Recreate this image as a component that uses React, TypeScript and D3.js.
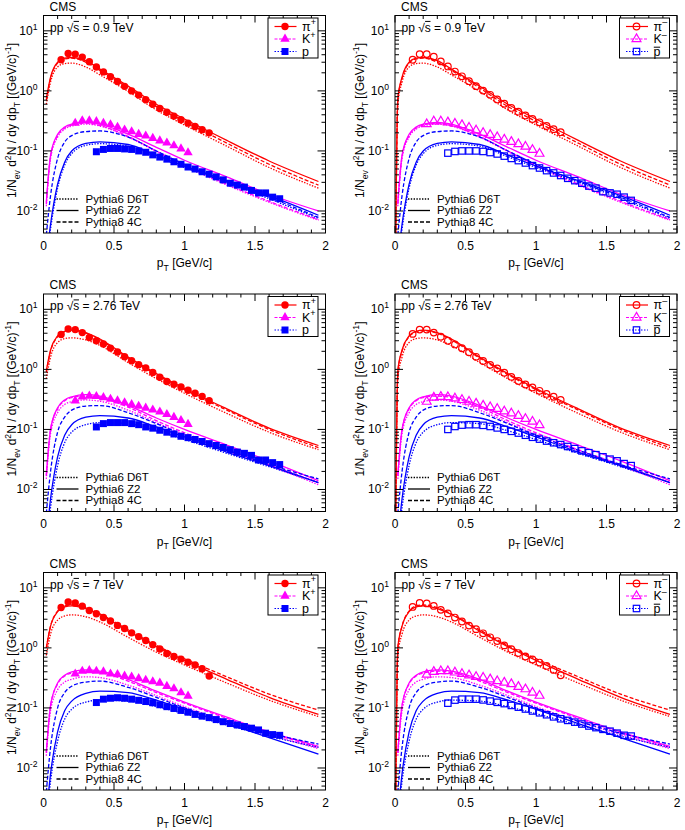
import { useEffect, useRef } from 'react';
import * as d3 from 'd3';

// bin centres (GeV/c)
const ptPi = [0.125, 0.175, 0.225, 0.275, 0.325, 0.375, 0.425, 0.475, 0.525, 0.575, 0.625,
  0.675, 0.725, 0.775, 0.825, 0.875, 0.925, 0.975, 1.025, 1.075, 1.125, 1.175];
const ptK = [0.225, 0.275, 0.325, 0.375, 0.425, 0.475, 0.525, 0.575, 0.625, 0.675, 0.725,
  0.775, 0.825, 0.875, 0.925, 0.975, 1.025];
const ptP = [0.375, 0.425, 0.475, 0.525, 0.575, 0.625, 0.675, 0.725, 0.775, 0.825, 0.875,
  0.925, 0.975, 1.025, 1.075, 1.125, 1.175, 1.225, 1.275, 1.325, 1.375, 1.425, 1.475,
  1.525, 1.575, 1.625, 1.675];
const ptModel = [0.02, 0.05, 0.1, 0.15, 0.2, 0.3, 0.4, 0.6, 0.8, 1.0, 1.3, 1.6, 1.95];

// measured spectra, 0.9 TeV
const piPos09 = [3.3, 4.2, 4.1, 3.65, 3.05, 2.5, 2.07, 1.72, 1.43, 1.19, 1.0, 0.85, 0.71, 0.6, 0.51, 0.44, 0.38, 0.33, 0.29, 0.255, 0.225, 0.2];
const piNeg09 = [3.3, 4.1, 4.1, 3.7, 3.1, 2.55, 2.1, 1.75, 1.45, 1.2, 1.01, 0.86, 0.72, 0.61, 0.52, 0.45, 0.39, 0.34, 0.3, 0.26, 0.23, 0.205];
const kPos09 = [0.29, 0.32, 0.32, 0.31, 0.29, 0.275, 0.25, 0.225, 0.21, 0.19, 0.178, 0.163, 0.148, 0.136, 0.123, 0.109, 0.094];
const kNeg09 = [0.28, 0.31, 0.31, 0.3, 0.285, 0.27, 0.245, 0.22, 0.2, 0.185, 0.17, 0.155, 0.142, 0.13, 0.118, 0.104, 0.09];
const pPos09 = [0.097, 0.106, 0.11, 0.11, 0.108, 0.106, 0.1, 0.095, 0.086, 0.079, 0.073, 0.066, 0.06, 0.054, 0.05, 0.045, 0.041, 0.037, 0.033, 0.029, 0.027, 0.025, 0.022, 0.02, 0.02, 0.017, 0.016];
const pNeg09 = [0.092, 0.098, 0.1, 0.1, 0.1, 0.098, 0.094, 0.089, 0.082, 0.075, 0.069, 0.063, 0.057, 0.052, 0.047, 0.043, 0.039, 0.035, 0.032, 0.029, 0.026, 0.024, 0.021, 0.02, 0.019, 0.017, 0.015];

// measured spectra, 2.76 TeV
const piPos276 = [3.8, 4.7, 4.6, 4.1, 3.4, 3.0, 2.65, 2.26, 1.95, 1.63, 1.39, 1.2, 1.06, 0.885, 0.74, 0.63, 0.565, 0.51, 0.45, 0.4, 0.355, 0.3];
const piNeg276 = [3.9, 4.6, 4.6, 4.1, 3.5, 3.0, 2.6, 2.25, 1.93, 1.62, 1.38, 1.19, 1.04, 0.88, 0.75, 0.64, 0.56, 0.5, 0.44, 0.39, 0.35, 0.31];
const kPos276 = [0.3, 0.35, 0.36, 0.355, 0.34, 0.32, 0.3, 0.28, 0.26, 0.245, 0.228, 0.212, 0.196, 0.178, 0.16, 0.142, 0.122];
const kNeg276 = [0.29, 0.34, 0.35, 0.345, 0.33, 0.31, 0.29, 0.27, 0.25, 0.235, 0.22, 0.2, 0.185, 0.168, 0.15, 0.135, 0.118];
const pPos276 = [0.11, 0.125, 0.13, 0.13, 0.13, 0.125, 0.12, 0.11, 0.105, 0.097, 0.09, 0.084, 0.077, 0.073, 0.068, 0.063, 0.058, 0.054, 0.05, 0.046, 0.042, 0.04, 0.037, 0.031, 0.031, 0.028, 0.026];
const pNeg276 = [0.1, 0.112, 0.118, 0.12, 0.12, 0.117, 0.112, 0.106, 0.1, 0.093, 0.087, 0.08, 0.074, 0.069, 0.064, 0.06, 0.056, 0.052, 0.048, 0.044, 0.041, 0.038, 0.035, 0.032, 0.03, 0.027, 0.025];

// measured spectra, 7 TeV
const piPos7 = [4.7, 5.8, 5.6, 4.95, 4.2, 3.7, 3.2, 2.8, 2.37, 2.1, 1.78, 1.54, 1.33, 1.13, 0.96, 0.81, 0.72, 0.65, 0.575, 0.52, 0.45, 0.34];
const piNeg7 = [4.8, 5.6, 5.5, 5.0, 4.3, 3.75, 3.2, 2.75, 2.35, 2.05, 1.75, 1.5, 1.3, 1.1, 0.95, 0.82, 0.72, 0.64, 0.57, 0.5, 0.43, 0.35];
const kPos7 = [0.37, 0.41, 0.42, 0.41, 0.4, 0.37, 0.36, 0.34, 0.33, 0.31, 0.29, 0.275, 0.26, 0.23, 0.21, 0.18, 0.158];
const kNeg7 = [0.36, 0.4, 0.41, 0.41, 0.39, 0.37, 0.35, 0.33, 0.32, 0.3, 0.28, 0.265, 0.25, 0.225, 0.205, 0.18, 0.16];
const pPos7 = [0.123, 0.14, 0.145, 0.148, 0.145, 0.14, 0.134, 0.128, 0.122, 0.113, 0.105, 0.098, 0.091, 0.085, 0.078, 0.073, 0.069, 0.064, 0.059, 0.055, 0.052, 0.049, 0.046, 0.043, 0.038, 0.036, 0.035];
const pNeg7 = [0.12, 0.135, 0.14, 0.14, 0.14, 0.136, 0.13, 0.124, 0.118, 0.11, 0.103, 0.096, 0.089, 0.083, 0.077, 0.071, 0.066, 0.062, 0.058, 0.054, 0.05, 0.047, 0.044, 0.041, 0.038, 0.035, 0.034];

// generator curves on ptModel, 0.9 TeV
const piD6T09 = [0.6, 1.4, 2.5, 2.85, 2.9, 2.5, 1.85, 0.98, 0.48, 0.27, 0.12, 0.053, 0.024];
const piZ209 = [0.75, 1.7, 3.0, 3.5, 3.6, 3.2, 2.3, 1.2, 0.6, 0.34, 0.15, 0.068, 0.031];
const pi4C09 = [0.7, 1.6, 2.9, 3.4, 3.5, 3.0, 2.2, 1.12, 0.55, 0.31, 0.135, 0.06, 0.027];
const kD6T09 = [0.012, 0.075, 0.17, 0.23, 0.26, 0.28, 0.26, 0.17, 0.098, 0.056, 0.027, 0.014, 0.007];
const kZ209 = [0.014, 0.085, 0.19, 0.25, 0.28, 0.3, 0.28, 0.19, 0.115, 0.07, 0.037, 0.019, 0.01];
const k4C09 = [0.013, 0.08, 0.18, 0.24, 0.27, 0.29, 0.265, 0.175, 0.1, 0.058, 0.028, 0.0145, 0.0072];
const pD6T09 = [0.0013, 0.005, 0.024, 0.058, 0.09, 0.124, 0.132, 0.12, 0.08, 0.053, 0.03, 0.016, 0.0075];
const pZ209 = [0.0015, 0.006, 0.028, 0.065, 0.1, 0.134, 0.142, 0.128, 0.085, 0.056, 0.032, 0.018, 0.0085];
const p4C09 = [0.004, 0.018, 0.075, 0.14, 0.18, 0.21, 0.215, 0.17, 0.1, 0.06, 0.031, 0.017, 0.0078];

// generator curves, 2.76 TeV
const piD6T276 = [0.7, 1.6, 2.8, 3.25, 3.35, 3.1, 2.5, 1.3, 0.7, 0.4, 0.185, 0.09, 0.046];
const piZ2276 = [0.95, 2.1, 3.6, 4.3, 4.5, 4.1, 3.2, 1.6, 0.85, 0.48, 0.22, 0.105, 0.054];
const pi4C276 = [0.9, 2.0, 3.5, 4.2, 4.4, 4.0, 3.1, 1.55, 0.82, 0.46, 0.21, 0.1, 0.05];
const kD6T276 = [0.015, 0.085, 0.19, 0.26, 0.29, 0.31, 0.295, 0.21, 0.13, 0.082, 0.044, 0.025, 0.012];
const kZ2276 = [0.017, 0.1, 0.23, 0.31, 0.35, 0.38, 0.36, 0.25, 0.155, 0.1, 0.055, 0.03, 0.014];
const k4C276 = [0.017, 0.1, 0.22, 0.3, 0.34, 0.36, 0.34, 0.235, 0.14, 0.088, 0.046, 0.026, 0.013];
const pD6T276 = [0.0012, 0.005, 0.025, 0.06, 0.09, 0.12, 0.13, 0.125, 0.095, 0.068, 0.04, 0.024, 0.013];
const pZ2276 = [0.0015, 0.007, 0.035, 0.08, 0.12, 0.16, 0.17, 0.155, 0.11, 0.075, 0.042, 0.025, 0.013];
const p4C276 = [0.004, 0.02, 0.09, 0.16, 0.21, 0.245, 0.25, 0.19, 0.125, 0.08, 0.045, 0.026, 0.015];

// generator curves, 7 TeV
const piD6T7 = [0.75, 1.7, 2.9, 3.4, 3.55, 3.3, 2.7, 1.5, 0.85, 0.52, 0.26, 0.135, 0.072];
const piZ27 = [1.0, 2.3, 4.0, 4.8, 5.0, 4.5, 3.6, 1.9, 1.05, 0.62, 0.3, 0.15, 0.078];
const pi4C7 = [1.0, 2.3, 4.1, 5.0, 5.2, 4.7, 3.7, 2.0, 1.1, 0.66, 0.33, 0.17, 0.092];
const kD6T7 = [0.016, 0.09, 0.2, 0.27, 0.3, 0.33, 0.32, 0.24, 0.16, 0.105, 0.06, 0.036, 0.021];
const kZ27 = [0.018, 0.11, 0.26, 0.35, 0.4, 0.43, 0.41, 0.3, 0.19, 0.125, 0.07, 0.04, 0.023];
const k4C7 = [0.018, 0.11, 0.25, 0.34, 0.38, 0.41, 0.39, 0.28, 0.18, 0.12, 0.067, 0.039, 0.022];
const pD6T7 = [0.0013, 0.006, 0.028, 0.065, 0.095, 0.125, 0.135, 0.13, 0.105, 0.08, 0.052, 0.034, 0.022];
const pZ27 = [0.0016, 0.008, 0.04, 0.09, 0.13, 0.175, 0.19, 0.18, 0.135, 0.095, 0.055, 0.032, 0.017];
const p4C7 = [0.004, 0.022, 0.1, 0.18, 0.23, 0.27, 0.28, 0.22, 0.15, 0.1, 0.06, 0.038, 0.025];

// negative-charge panels: generator pion curves start right at pT ~ 0
const leadIn: [number, number] = [0.004, 0.002];

const modelNames = ['Pythia6 D6T', 'Pythia6 Z2', 'Pythia8 4C'];
const modelDash = ['1.4,1.4', null, '4,2'];
const yMajor = [0.01, 0.1, 1, 10];
const yExp = ['-2', '-1', '0', '1'];
const xMajor = [0, 0.5, 1, 1.5, 2];
const xLabels = ['0', '0.5', '1', '1.5', '2'];

const model09 = { pi: [piD6T09, piZ209, pi4C09], k: [kD6T09, kZ209, k4C09], p: [pD6T09, pZ209, p4C09] };
const model276 = { pi: [piD6T276, piZ2276, pi4C276], k: [kD6T276, kZ2276, k4C276], p: [pD6T276, pZ2276, p4C276] };
const model7 = { pi: [piD6T7, piZ27, pi4C7], k: [kD6T7, kZ27, k4C7], p: [pD6T7, pZ27, p4C7] };

const panels = [
  { col: 0, row: 0, energy: '0.9', neg: false, data: { pi: piPos09, k: kPos09, p: pPos09 }, model: model09 },
  { col: 1, row: 0, energy: '0.9', neg: true, data: { pi: piNeg09, k: kNeg09, p: pNeg09 }, model: model09 },
  { col: 0, row: 1, energy: '2.76', neg: false, data: { pi: piPos276, k: kPos276, p: pPos276 }, model: model276 },
  { col: 1, row: 1, energy: '2.76', neg: true, data: { pi: piNeg276, k: kNeg276, p: pNeg276 }, model: model276 },
  { col: 0, row: 2, energy: '7', neg: false, data: { pi: piPos7, k: kPos7, p: pPos7 }, model: model7 },
  { col: 1, row: 2, energy: '7', neg: true, data: { pi: piNeg7, k: kNeg7, p: pNeg7 }, model: model7 },
];

const species = [
  { key: 'pi', color: '#ff0000', pts: ptPi, shape: 'circle', legDash: null },
  { key: 'k', color: '#ff00ff', pts: ptK, shape: 'triangle', legDash: '3,1.5' },
  { key: 'p', color: '#0000ff', pts: ptP, shape: 'square', legDash: '1.5,1.5' },
] as const;

const colX = [[43.5, 325.5], [395, 677]];
const rowY = [[15.5, 233], [294, 511.5], [572.5, 790]];
const FONT = "'Liberation Sans', Arial, Helvetica, sans-serif";

type Part = [string, 'n' | 'sup' | 'sub' | 'bar'];

// appends tspans; parts marked 'bar' get an overline drawn as a line in `parent`
function rich(t: any, parts: Part[], fs: number, parent?: any, barLift = 0.8) {
  let cur = 0;
  let idx = 0;
  const bars: [number, number][] = [];
  parts.forEach(([s, kind]) => {
    const target = kind === 'sup' ? -0.42 * fs : kind === 'sub' ? 0.3 * fs : 0;
    const small = kind === 'sup' || kind === 'sub';
    t.append('tspan')
      .attr('dy', target - cur)
      .attr('font-size', small ? fs * 0.72 : fs)
      .text(s);
    if (kind === 'bar') bars.push([idx, s.length]);
    idx += s.length;
    cur = target;
  });
  if (parent && bars.length) {
    const node = t.node() as SVGTextElement;
    const tx = +t.attr('x');
    const ty = +t.attr('y');
    bars.forEach(([start, len]) => {
      const off = start > 0 ? node.getSubStringLength(0, start) : 0;
      const w = node.getSubStringLength(start, len);
      parent.append('line')
        .attr('x1', tx + off + 0.3).attr('x2', tx + off + w - 0.3)
        .attr('y1', ty - barLift * fs).attr('y2', ty - barLift * fs)
        .attr('stroke', '#000').attr('stroke-width', 1);
    });
  }
}

function marker(g: any, shape: string, cx: number, cy: number, color: string, open: boolean) {
  if (shape === 'circle') {
    g.append('circle').attr('cx', cx).attr('cy', cy).attr('r', open ? 3.3 : 3.7)
      .attr('fill', open ? 'none' : color).attr('stroke', color).attr('stroke-width', open ? 1.2 : 0);
  } else if (shape === 'square') {
    const s = open ? 6.4 : 7;
    g.append('rect').attr('x', cx - s / 2).attr('y', cy - s / 2).attr('width', s).attr('height', s)
      .attr('fill', open ? 'none' : color).attr('stroke', color).attr('stroke-width', open ? 1.2 : 0);
  } else {
    g.append('path').attr('d', d3.symbol(d3.symbolTriangle, open ? 34 : 38)())
      .attr('transform', `translate(${cx},${cy})`)
      .attr('fill', open ? 'none' : color).attr('stroke', color).attr('stroke-width', open ? 1.2 : 0);
  }
}

export default function App() {
  const svgRef = useRef<SVGSVGElement>(null);

  useEffect(() => {
    if (!svgRef.current) return;
    const svg = d3.select(svgRef.current);
    svg.selectAll('*').remove();
    const defs = svg.append('defs');

    panels.forEach((pn, idx) => {
      const [fx0, fx1] = colX[pn.col];
      const [fy0, fy1] = rowY[pn.row];
      const x = d3.scaleLinear().domain([0, 2]).range([fx0, fx1]);
      const y = d3.scaleLog().domain([0.0043, 18]).range([fy1, fy0]);
      const g = svg.append('g');

      defs.append('clipPath').attr('id', `clip${idx}`)
        .append('rect').attr('x', fx0).attr('y', fy0).attr('width', fx1 - fx0).attr('height', fy1 - fy0);
      const plot = g.append('g').attr('clip-path', `url(#clip${idx})`);

      const line = d3.line<[number, number]>()
        .x(d => x(d[0])).y(d => y(d[1]))
        .curve(d3.curveMonotoneX);

      // generator curves
      species.forEach(sp => {
        const sets = (pn.model as any)[sp.key] as number[][];
        sets.forEach((vals, m) => {
          let pts: [number, number][] = ptModel.map((p, i) => [p, vals[i]]);
          if (pn.neg && sp.key === 'pi') pts = [leadIn, ...pts];
          plot.append('path').attr('d', line(pts))
            .attr('fill', 'none').attr('stroke', sp.color).attr('stroke-width', 1.3)
            .attr('stroke-dasharray', modelDash[m]);
        });
      });

      // measured points
      species.forEach(sp => {
        const vals = (pn.data as any)[sp.key] as number[];
        sp.pts.forEach((p, i) => marker(plot, sp.shape, x(p), y(vals[i]), sp.color, pn.neg));
      });

      // frame
      g.append('rect').attr('x', fx0).attr('y', fy0).attr('width', fx1 - fx0).attr('height', fy1 - fy0)
        .attr('fill', 'none').attr('stroke', '#000').attr('stroke-width', 1);

      // ticks
      const tk = g.append('g').attr('stroke', '#000').attr('stroke-width', 1);
      d3.range(0, 2.0001, 0.1).forEach(v => {
        const major = xMajor.some(m => Math.abs(m - v) < 1e-6);
        const len = major ? 7 : 3.5;
        const px = x(v);
        tk.append('line').attr('x1', px).attr('x2', px).attr('y1', fy1).attr('y2', fy1 - len);
        tk.append('line').attr('x1', px).attr('x2', px).attr('y1', fy0).attr('y2', fy0 + len);
      });
      [-3, -2, -1, 0, 1].forEach(e => {
        d3.range(1, 10).forEach(m => {
          const v = m * Math.pow(10, e);
          if (v < 0.0043 || v > 18) return;
          const len = m === 1 ? 8 : 4;
          const py = y(v);
          tk.append('line').attr('x1', fx0).attr('x2', fx0 + len).attr('y1', py).attr('y2', py);
          tk.append('line').attr('x1', fx1).attr('x2', fx1 - len).attr('y1', py).attr('y2', py);
        });
      });

      const txt = g.append('g').attr('font-family', FONT).attr('fill', '#000');

      // tick labels
      xMajor.forEach((v, i) => {
        txt.append('text').attr('x', x(v)).attr('y', fy1 + 16.5).attr('text-anchor', 'middle')
          .attr('font-size', 12).text(xLabels[i]);
      });
      yMajor.forEach((v, i) => {
        const t = txt.append('text').attr('x', fx0 - 6).attr('y', y(v) + 4).attr('text-anchor', 'end')
          .attr('font-size', 12);
        rich(t, [['10', 'n'], [yExp[i], 'sup']], 12);
      });

      // axis titles
      const xt = txt.append('text').attr('x', (fx0 + fx1) / 2).attr('y', fy1 + 34)
        .attr('text-anchor', 'middle').attr('font-size', 12);
      rich(xt, [['p', 'n'], ['T', 'sub'], [' [GeV/c]', 'n']], 12);

      const yt = txt.append('text')
        .attr('transform', `translate(${fx0 - (pn.col === 0 ? 27.5 : 31)},${fy0 + 27.5}) rotate(-90)`)
        .attr('text-anchor', 'end').attr('font-size', 12);
      rich(yt, [['1/N', 'n'], ['ev', 'sub'], [' d', 'n'], ['2', 'sup'], ['N / dy dp', 'n'], ['T', 'sub'],
        [' [(GeV/c)', 'n'], ['-1', 'sup'], [']', 'n']], 12);

      // CMS and energy
      txt.append('text').attr('x', fx0 + 6).attr('y', fy0 - 5).attr('font-size', 12).text('CMS');
      const en = txt.append('text').attr('x', fx0 + 6.5).attr('y', fy0 + 16).attr('font-size', 12);
      rich(en, [['pp \u221A', 'n'], ['s', 'bar'], [` = ${pn.energy} TeV`, 'n']], 12, txt, 0.84);

      // generator legend
      const mleg = g.append('g');
      modelNames.forEach((name, m) => {
        const ly = fy0 + 183.5 + m * 11.5;
        mleg.append('line').attr('x1', fx0 + 13).attr('x2', fx0 + 35).attr('y1', ly).attr('y2', ly)
          .attr('stroke', '#000').attr('stroke-width', 1.3).attr('stroke-dasharray', modelDash[m]);
        mleg.append('text').attr('x', fx0 + 42).attr('y', ly + 3.8).attr('font-size', 11.5)
          .attr('font-family', FONT).text(name);
      });

      // species legend (drawn last so it sits above everything)
      const leg = g.append('g');
      const bx0 = fx1 - 57.5, by0 = fy0 + 2.5;
      leg.append('rect').attr('x', bx0).attr('y', by0).attr('width', 50).attr('height', 40)
        .attr('fill', '#fff').attr('stroke', '#000').attr('stroke-width', 1);
      const legLabels: Part[][] = pn.neg
        ? [[['\u03C0', 'n'], ['\u2013', 'sup']], [['K', 'n'], ['\u2013', 'sup']], [['p', 'bar']]]
        : [[['\u03C0', 'n'], ['+', 'sup']], [['K', 'n'], ['+', 'sup']], [['p', 'n']]];
      species.forEach((sp, i) => {
        const ly = by0 + 8.5 + i * 12.5;
        leg.append('line').attr('x1', bx0 + 6.5).attr('x2', bx0 + 28.5).attr('y1', ly).attr('y2', ly)
          .attr('stroke', sp.color).attr('stroke-width', 1.2).attr('stroke-dasharray', sp.legDash);
        marker(leg, sp.shape, bx0 + 17, ly, sp.color, pn.neg);
        const t = leg.append('text').attr('x', bx0 + 34).attr('y', ly + 4.2)
          .attr('font-size', 12.5).attr('font-family', FONT);
        rich(t, legLabels[i], 12.5, leg, 0.68);
      });
    });
  }, []);

  return (
    <svg ref={svgRef} width={685} height={830}
      style={{ position: 'absolute', left: 0, top: 0, background: '#fff' }} />
  );
}
